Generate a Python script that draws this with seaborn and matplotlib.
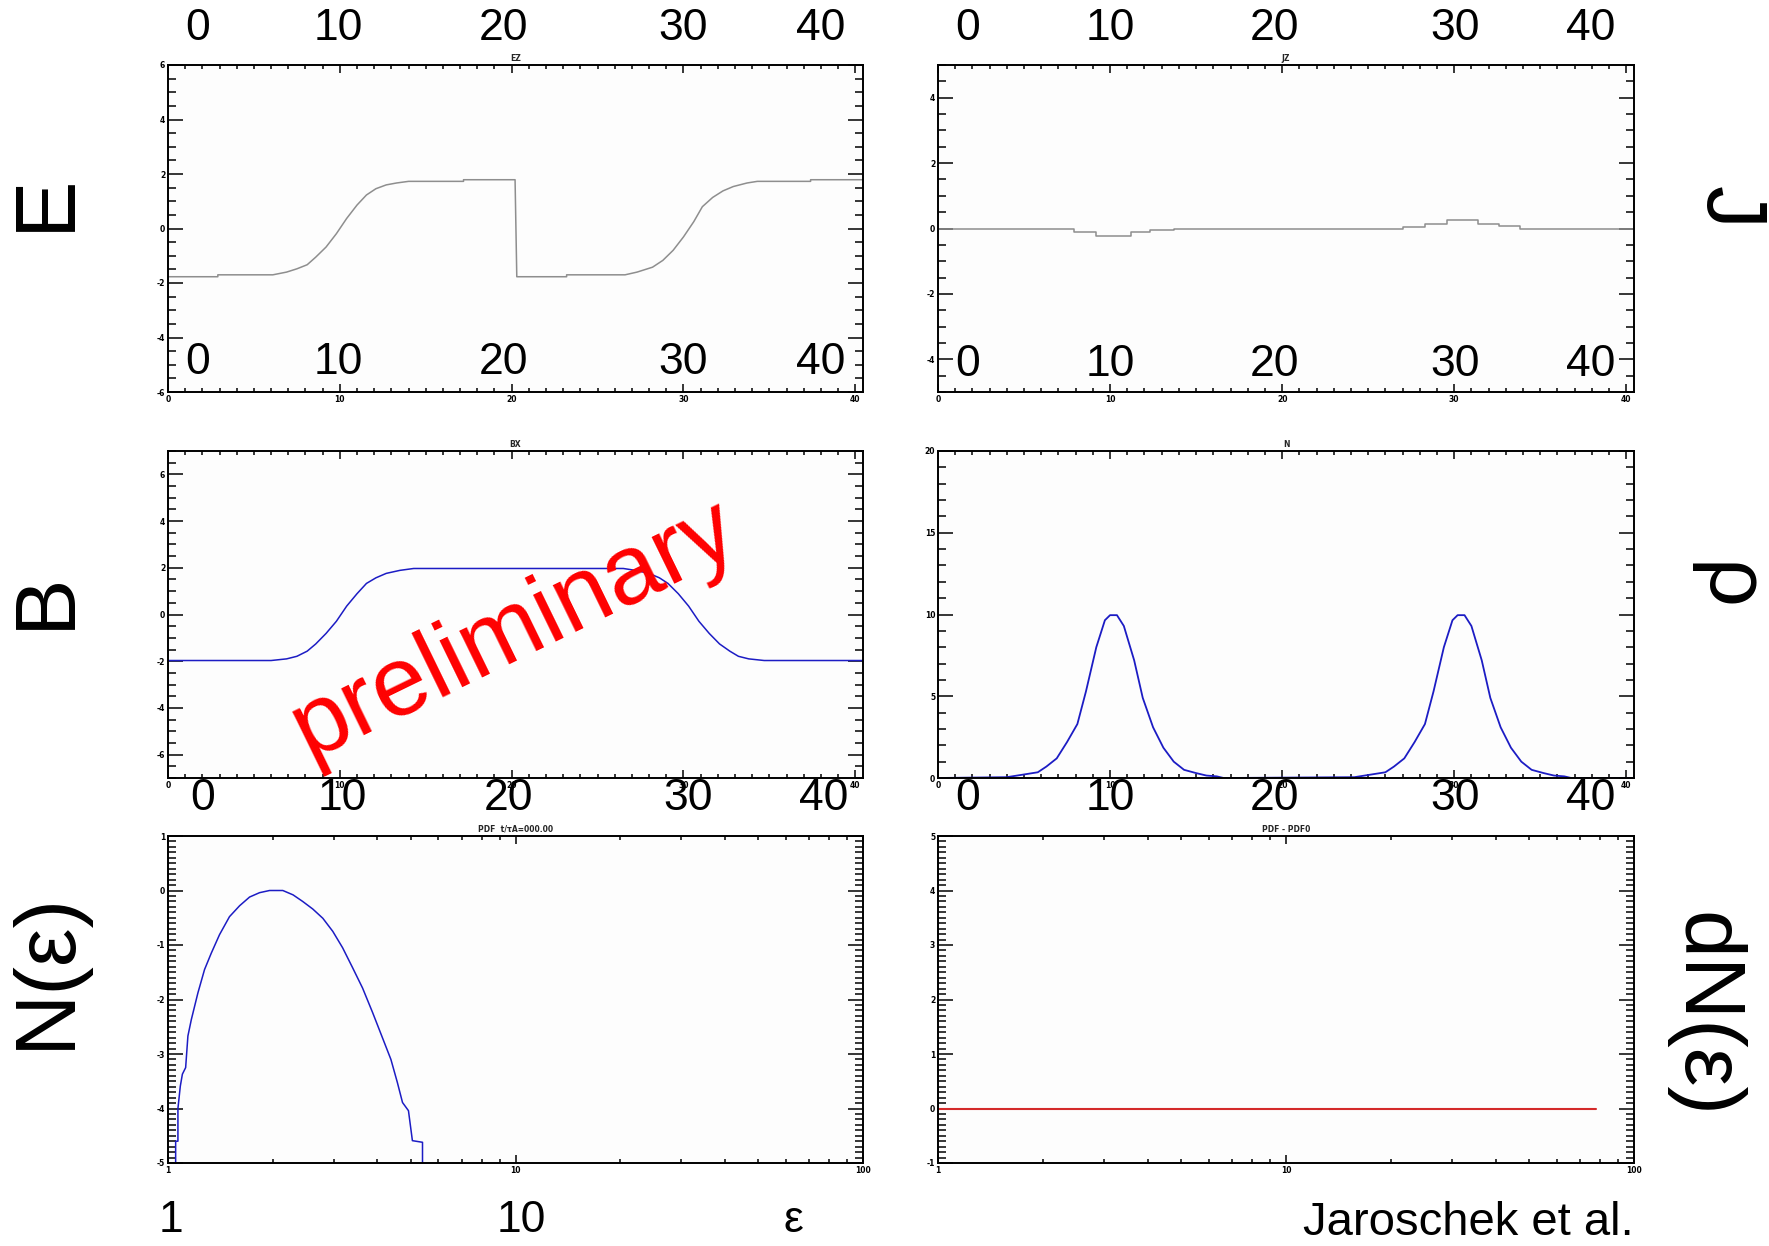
import numpy as np
import pandas as pd
import matplotlib
matplotlib.use("Agg")
import matplotlib.pyplot as plt
from matplotlib.ticker import MultipleLocator, LogLocator, FuncFormatter, NullFormatter
import seaborn as sns

# ---- field profiles along the simulation box ----
ez_x = [0, 2.9, 2.9, 6.1, 6.9, 7.5, 8.1, 8.6, 9.2, 9.8, 10.4, 11.0, 11.55, 12.1, 12.7, 13.3, 14.0,
        17.2, 17.2, 20.2, 20.3, 23.2, 23.2, 26.6, 27.3, 28.2, 28.8, 29.4, 30.0, 30.6, 31.1, 31.7,
        32.3, 32.9, 33.7, 34.3, 37.4, 37.4, 40.45]
ez_y = [-1.77, -1.77, -1.70, -1.70, -1.60, -1.48, -1.33, -1.05, -0.68, -0.19, 0.37, 0.86, 1.23, 1.46,
        1.60, 1.67, 1.73, 1.73, 1.79, 1.79, -1.77, -1.77, -1.70, -1.70, -1.60, -1.42, -1.17, -0.80,
        -0.31, 0.25, 0.80, 1.14, 1.38, 1.54, 1.67, 1.73, 1.73, 1.79, 1.79]

jz_x = [0, 6.5, 7.9, 9.2, 11.2, 12.3, 13.7, 27.0, 28.3, 29.6, 31.4, 32.6, 33.8, 40.45]
jz_y = [0, -0.03, -0.10, -0.22, -0.10, -0.05, 0, 0.05, 0.15, 0.25, 0.15, 0.07, 0, 0]

bx_x = [0, 6.0, 6.9, 7.5, 8.1, 8.6, 9.2, 9.8, 10.4, 11.0, 11.55, 12.1, 12.7, 13.5, 14.3,
        26.5, 27.2, 28.0, 28.6, 29.1, 29.7, 30.3, 30.9, 31.5, 32.1, 32.7, 33.2, 33.8, 34.7, 40.45]
bx_y = [-1.97, -1.97, -1.90, -1.79, -1.57, -1.26, -0.81, -0.29, 0.36, 0.89, 1.33, 1.57, 1.76, 1.89, 1.97,
        1.97, 1.89, 1.76, 1.57, 1.33, 0.89, 0.36, -0.29, -0.81, -1.26, -1.57, -1.79, -1.90, -1.97, -1.97]

n_x = [0, 4.0, 4.9, 5.8, 6.3, 6.9, 7.5, 8.1, 8.6, 9.2, 9.7, 10.0, 10.4, 10.8, 11.4, 11.9, 12.5, 13.1,
       13.7, 14.3, 15.0, 15.6, 16.2, 16.6,
       24.2, 25.1, 26.0, 26.5, 27.1, 27.7, 28.3, 28.8, 29.4, 29.9, 30.2, 30.6, 31.0, 31.6, 32.1, 32.7,
       33.3, 33.9, 34.5, 35.2, 35.8, 36.4, 36.8, 40.45]
n_y = [0, 0.05, 0.2, 0.35, 0.7, 1.2, 2.2, 3.3, 5.3, 8.0, 9.65, 9.96, 9.96, 9.3, 7.2, 4.9, 3.1, 1.85,
       1.0, 0.5, 0.3, 0.15, 0.1, 0,
       0.05, 0.2, 0.35, 0.7, 1.2, 2.2, 3.3, 5.3, 8.0, 9.65, 9.96, 9.96, 9.3, 7.2, 4.9, 3.1,
       1.85, 1.0, 0.5, 0.3, 0.15, 0.1, 0, 0]

# ---- energy distribution (log10) ----
pdf_e = [1.052, 1.052, 1.068, 1.068, 1.085, 1.10, 1.124, 1.141, 1.167, 1.219, 1.274, 1.332, 1.407,
         1.503, 1.607, 1.717, 1.834, 1.96, 2.14, 2.29, 2.44, 2.61, 2.79, 2.98, 3.18, 3.40, 3.63,
         3.88, 4.14, 4.38, 4.57, 4.73, 4.92, 5.05, 5.40, 5.40]
pdf_v = [-5.0, -4.6, -4.6, -4.0, -3.59, -3.37, -3.25, -2.67, -2.37, -1.88, -1.45, -1.15, -0.81,
         -0.48, -0.28, -0.12, -0.04, 0.0, 0.0, -0.08, -0.20, -0.34, -0.51, -0.75, -1.05, -1.42, -1.79,
         -2.24, -2.70, -3.10, -3.52, -3.89, -4.04, -4.59, -4.62, -5.0]
dpdf_e = [1, 78]
dpdf_v = [0, 0]

# ---- annotation text ----
x_big_labels = ["0", "10", "20", "30", "40"]
e_big_labels = ["1", "10", "\u03b5"]
left_names = ["E", "B", "N(\u03b5)"]
right_names = ["J", "\u03c1", "dN(\u03b5)"]

sns.set_style("ticks")
plt.rcParams["font.family"] = ["DejaVu Sans"]
plt.rcParams["axes.unicode_minus"] = False

W, H = 1769, 1246
fig = plt.figure(figsize=(W / 100, H / 100), dpi=100)
fig.patch.set_facecolor("white")

GRAY = "#8e8e8e"
BLUE = "#1c1cc4"
RED = "#d42a2a"
SMALL = dict(fontsize=5.5, fontweight="bold", family="DejaVu Sans")


def panel(l, t, r, b):
    ax = fig.add_axes([l / W, 1 - b / H, (r - l) / W, (b - t) / H])
    ax.set_facecolor("#fdfdfd")
    for s in ax.spines.values():
        s.set_linewidth(1.4)
        s.set_color("black")
    ax.tick_params(which="both", direction="in", top=True, right=True,
                   width=1.1, colors="black", labelsize=5.5, pad=2)
    ax.tick_params(axis="x", which="major", length=5.8)
    ax.tick_params(axis="x", which="minor", length=3.0)
    ax.tick_params(axis="y", which="major", length=10.8)
    ax.tick_params(axis="y", which="minor", length=6.0)
    return ax


def linear_x(ax):
    ax.set_xlim(0, 40.45)
    ax.xaxis.set_major_locator(MultipleLocator(10))
    ax.xaxis.set_minor_locator(MultipleLocator(1))


def log_x(ax):
    ax.set_xscale("log")
    ax.set_xlim(1, 100)
    ax.xaxis.set_major_locator(LogLocator(base=10, numticks=5))
    ax.xaxis.set_minor_locator(LogLocator(base=10, subs=np.arange(2, 10), numticks=20))
    ax.xaxis.set_major_formatter(FuncFormatter(lambda v, p: f"{v:g}"))
    ax.xaxis.set_minor_formatter(NullFormatter())


def bold_ticks(ax):
    for lab in ax.get_xticklabels() + ax.get_yticklabels():
        lab.set_fontweight("bold")
        lab.set_fontsize(5.5)


def draw(ax, x, y, color, lw=1.1, **kw):
    df = pd.DataFrame({"x": x, "y": y})
    sns.lineplot(data=df, x="x", y="y", ax=ax, color=color, linewidth=lw,
                 sort=False, estimator=None, legend=False, **kw)
    ax.set_xlabel("")
    ax.set_ylabel("")


# EZ
ax = panel(168, 65, 863, 392)
draw(ax, ez_x, ez_y, GRAY)
linear_x(ax)
ax.set_ylim(-6, 6)
ax.yaxis.set_major_locator(MultipleLocator(2))
ax.yaxis.set_minor_locator(MultipleLocator(0.5))
ax.set_title("EZ", pad=3, **SMALL)
bold_ticks(ax)

# JZ
ax = panel(938, 65, 1634, 392)
draw(ax, jz_x, jz_y, GRAY, drawstyle="steps-post")
linear_x(ax)
ax.set_ylim(-5, 5)
ax.yaxis.set_major_locator(MultipleLocator(2))
ax.yaxis.set_minor_locator(MultipleLocator(0.5))
ax.set_title("JZ", pad=3, **SMALL)
bold_ticks(ax)

# BX
ax = panel(168, 451, 863, 778)
draw(ax, bx_x, bx_y, BLUE)
linear_x(ax)
ax.set_ylim(-7, 7)
ax.yaxis.set_major_locator(MultipleLocator(2))
ax.yaxis.set_minor_locator(MultipleLocator(0.5))
ax.set_title("BX", pad=3, **SMALL)
bold_ticks(ax)

# density
ax = panel(938, 451, 1634, 778)
draw(ax, n_x, n_y, BLUE, lw=1.3)
linear_x(ax)
ax.set_ylim(0, 20)
ax.yaxis.set_major_locator(MultipleLocator(5))
ax.yaxis.set_minor_locator(MultipleLocator(1))
ax.set_title("N", pad=3, **SMALL)
bold_ticks(ax)

# energy distribution
ax = panel(168, 836, 863, 1163)
draw(ax, pdf_e, pdf_v, BLUE)
log_x(ax)
ax.set_ylim(-5, 1)
ax.yaxis.set_major_locator(MultipleLocator(1))
ax.yaxis.set_minor_locator(MultipleLocator(0.1))
ax.set_title("PDF  t/\u03c4A=000.00", pad=3, **SMALL)
bold_ticks(ax)

# distribution change
ax = panel(938, 836, 1634, 1163)
draw(ax, dpdf_e, dpdf_v, RED, lw=1.5)
log_x(ax)
ax.set_ylim(-1, 5)
ax.yaxis.set_major_locator(MultipleLocator(1))
ax.yaxis.set_minor_locator(MultipleLocator(0.1))
ax.set_title("PDF - PDF0", pad=3, **SMALL)
bold_ticks(ax)


def ftext(x, y, s, size=32, rot=0, color="black", family="Liberation Sans", **kw):
    fig.text(x / W, 1 - y / H, s, fontsize=size, rotation=rot, color=color,
             family=family, ha="center", va="center", **kw)


# large axis numbering
left_cols = [198, 338, 503, 683, 821]
right_cols = [968, 1110, 1274, 1455, 1591]
for ypix, lc in [(28, left_cols), (363, left_cols), (799, [203, 342, 508, 688, 824])]:
    for xp, s in zip(lc, x_big_labels):
        ftext(xp, ypix, s)
for ypix in (28, 365, 799):
    for xp, s in zip(right_cols, x_big_labels):
        ftext(xp, ypix, s)
for xp, s in zip([171, 521, 793], e_big_labels):
    ftext(xp, 1221, s)

# quantity names
for yp, s in zip([202, 600, 970], left_names):
    ftext(47, yp, s, size=62, rot=90)
for (xp, yp), s in zip([(1728, 207), (1726, 587), (1703, 1015)], right_names):
    ftext(xp, yp, s, size=62, rot=270)

ftext(1468, 1223, "Jaroschek et al.", size=34)
ftext(515, 630, "preliminary", size=71, rot=26, color="#ff0000")

fig.savefig("out.png", dpi=100, facecolor="white")
